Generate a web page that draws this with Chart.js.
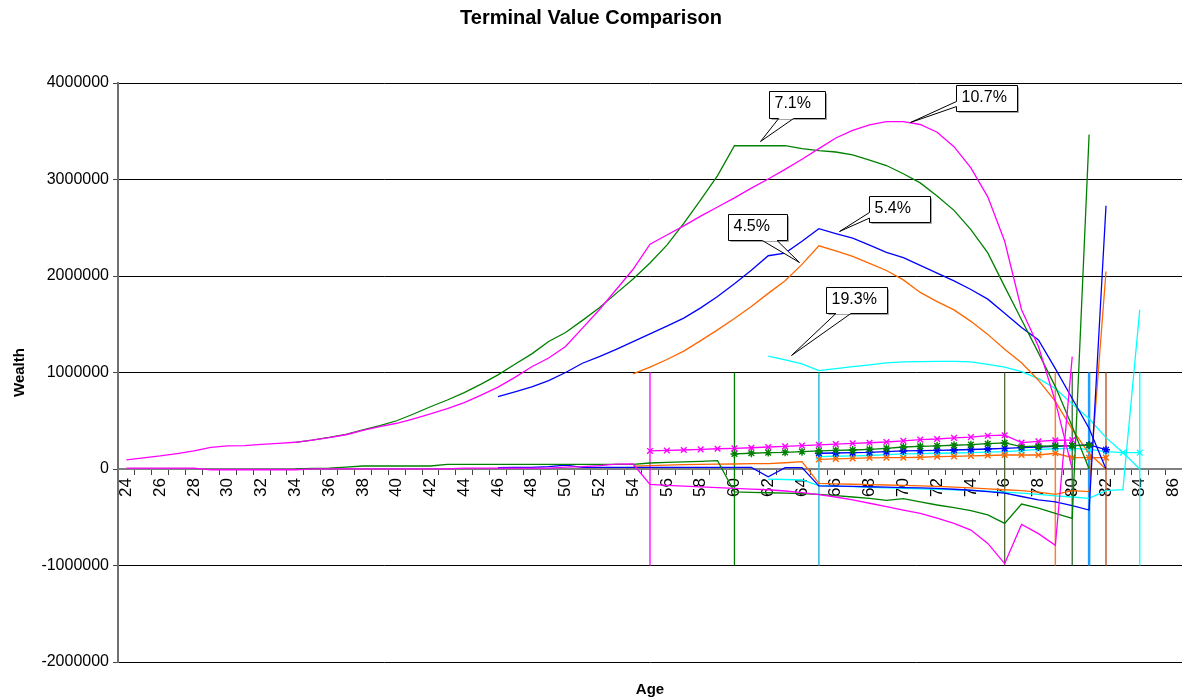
<!DOCTYPE html>
<html>
<head>
<meta charset="utf-8">
<title>Terminal Value Comparison</title>
<script src="https://cdn.jsdelivr.net/npm/chart.js@4.4.0/dist/chart.umd.min.js"></script>
<style>
  html, body { margin: 0; padding: 0; background: #fff; overflow: hidden; }
  canvas { display: block; }
</style>
</head>
<body>
<canvas id="tvChart" width="1182" height="699"></canvas>
<script>
// ages on the category axis
const ages = [24, 25, 26, 27, 28, 29, 30, 31, 32, 33, 34, 35, 36, 37, 38, 39, 40, 41, 42, 43,
    44, 45, 46, 47, 48, 49, 50, 51, 52, 53, 54, 55, 56, 57, 58, 59, 60, 61, 62, 63, 64, 65,
    66, 67, 68, 69, 70, 71, 72, 73, 74, 75, 76, 77, 78, 79, 80, 81, 82, 83, 84, 85, 86];
const ageLabels = ages.map(String);

// wealth paths, one per return rate (first age given separately)
const wealth107From = 24;
const wealth107 = [95000, 115000, 135000, 160000, 187000, 225000, 239000, 242000, 255000, 265000,
    277000, 300000, 325000, 355000, 400000, 440000, 474000, 520000, 570000, 625000,
    688000, 765000, 848000, 950000, 1060000, 1150000, 1270000, 1460000, 1650000, 1860000,
    2070000, 2330000, 2425000, 2520000, 2620000, 2715000, 2810000, 2910000, 3005000, 3105000,
    3210000, 3320000, 3430000, 3510000, 3565000, 3600000, 3600000, 3570000, 3490000, 3340000,
    3120000, 2820000, 2360000, 1650000, 1270000, 700000, 0];
const wealth71From = 34;
const wealth71 = [277000, 300000, 327000, 358000, 405000, 450000, 500000, 570000, 645000, 715000,
    792000, 880000, 975000, 1085000, 1193000, 1321000, 1415000, 1540000, 1670000, 1820000,
    1970000, 2134000, 2320000, 2545000, 2790000, 3040000, 3350000, 3350000, 3350000, 3350000,
    3320000, 3300000, 3285000, 3255000, 3200000, 3145000, 3060000, 2965000, 2830000, 2680000,
    2480000, 2240000, 1890000, 1546000, 1203000, 854000, 440000, 0];
const wealth54From = 46;
const wealth54 = [750000, 800000, 850000, 916000, 1000000, 1096000, 1165000, 1240000, 1320000, 1400000,
    1480000, 1563000, 1670000, 1787000, 1920000, 2060000, 2210000, 2237000, 2360000, 2490000,
    2440000, 2393000, 2320000, 2244000, 2190000, 2110000, 2030000, 1950000, 1860000, 1760000,
    1615000, 1466000, 1338000, 1040000, 730000, 420000, 0];
const wealth45From = 54;
const wealth45 = [985000, 1055000, 1135000, 1222000, 1330000, 1442000, 1560000, 1684000, 1820000, 1950000,
    2120000, 2313000, 2260000, 2203000, 2130000, 2057000, 1960000, 1830000, 1735000, 1649000,
    1530000, 1395000, 1240000, 1100000, 920000, 700000, 410000, 160000, 0];
const wealth193From = 62;
const wealth193 = [1170000, 1130000, 1090000, 1020000, 1040000, 1060000, 1080000, 1100000, 1110000, 1113000,
    1115000, 1115000, 1110000, 1085000, 1055000, 1010000, 937000, 835000, 675000, 520000,
    325000, 170000, 0];

// yearly cash flow: savings, then withdrawals, then the terminal value
const flow107 = [10000, 10000, 10000, 10000, 10000, -8000, -8000, -8000, -8000, -8000,
    -8000, 2000, 2000, 2000, 2000, 2000, 2000, 2000, 2000, 2000,
    10000, 10000, 10000, 10000, 10000, 10000, 20000, 25000, 35000, 50000,
    52000, -160000, -170000, -178000, -185000, -194000, -200000, -208000, -215000, -228000,
    -245000, -265000, -290000, -320000, -355000, -390000, -425000, -460000, -510000, -563000,
    -633000, -771000, -980000, -575000, -670000, -790000, 1165000];
const flow71 = [0, 5000, 10000, 20000, 31000, 31000, 31000, 31000, 31000, 48000,
    48000, 48000, 48000, 48000, 48000, 48000, 48000, 48000, 48000, 48000,
    48000, 62000, 68000, 74000, 80000, 86000, -238000, -242000, -246000, -250000,
    -255000, -262000, -275000, -290000, -305000, -325000, -308000, -340000, -373000, -400000,
    -432000, -475000, -563000, -363000, -406000, -460000, -511000, 3465000];
const flow54 = [15000, 17000, 17000, 25000, 41000, 17000, 17000, 17000, 17000, 17000,
    17000, 17000, 17000, 17000, 17000, 17000, -80000, 14000, 14000, -175000,
    -178000, -181000, -184000, -188000, -192000, -196000, -200000, -210000, -220000, -235000,
    -250000, -285000, -320000, -340000, -380000, -425000, 2728000];
const flow45 = [30000, 35000, 40000, 45000, 48000, 50000, 52000, 55000, 55000, 65000,
    76000, -150000, -155000, -158000, -162000, -166000, -170000, -175000, -180000, -188000,
    -196000, -205000, -215000, -225000, -240000, -262000, -225000, -235000, 2047000];
const flow193 = [-104000, -109000, -114000, -173000, -178000, -183000, -190000, -195000, -200000, -205000,
    -210000, -216000, -222000, -230000, -240000, -250000, -262000, -278000, -290000, -305000,
    -225000, -215000, 1650000];

// income drawn each year after retirement
const draw107From = 55;
const draw107 = [187000, 192000, 197000, 204000, 210000, 214000, 220000, 228000, 235000, 242000,
    250000, 258000, 266000, 272000, 280000, 292000, 305000, 311000, 322000, 330000,
    345000, 350000, 273000, 287000, 298000, 300000];
const draw71From = 60;
const draw71 = [156000, 163000, 170000, 173000, 180000, 187000, 193000, 197000, 204000, 214000,
    228000, 235000, 240000, 246000, 252000, 262000, 270000, 232000, 236000, 240000,
    242000, 246000];
const draw54From = 65;
const draw54 = [163000, 166000, 170000, 173000, 180000, 187000, 190000, 194000, 197000, 202000,
    207000, 214000, 221000, 228000, 235000, 242000, 249000, 200000];
const draw45From = 65;
const draw45 = [100000, 105000, 110000, 115000, 117000, 117000, 122000, 128000, 131000, 135000,
    140000, 145000, 145000, 145000, 163000, 117000, 117000, 117000];
const draw193From = 65;
const draw193 = [128000, 132000, 135000, 140000, 148000, 156000, 160000, 163000, 166000, 169000,
    175000, 180000, 190000, 204000, 210000, 214000, 204000, 180000, 169000, 169000];

// retirement / end-of-plan marker lines
const markerAges = [55, 60, 65, 76, 79, 80, 81, 82, 84];
const markerTop = 1000000;
const markerBottom = -1000000;

// rate callouts: text, arrow tip (age, value), box (left age, top value, right age, bottom value)
const callouts = [
    { text: '7.1%',  tip: [61.51, 3402000], box: [62.04, 3914000, 65.37, 3638000], side: 'bottom', base: [0.164, 0.43] },
    { text: '10.7%', tip: [70.42, 3592000], box: [73.1, 3976000, 76.71, 3706000], side: 'left', base: [0.615, 0.81] },
    { text: '5.4%',  tip: [66.18, 2462000], box: [67.96, 2825000, 71.55, 2555000], side: 'left', base: [0.615, 0.83] },
    { text: '4.5%',  tip: [63.82, 2140000], box: [59.62, 2645000, 63.09, 2376000], side: 'bottom', base: [0.574, 0.823] },
    { text: '19.3%', tip: [63.33, 1183000], box: [65.43, 1888000, 69.04, 1618000], side: 'bottom', base: [0.154, 0.40] }
];

const series = [
    { color: '#ff00ff', marker: 'crossRot', wealthFrom: wealth107From, wealth: wealth107, flowFrom: wealth107From, flow: flow107, drawFrom: draw107From, draw: draw107 },
    { color: '#008000', marker: 'star', wealthFrom: wealth71From, wealth: wealth71, flowFrom: wealth71From, flow: flow71, drawFrom: draw71From, draw: draw71 },
    { color: '#0000ff', marker: 'star', wealthFrom: wealth54From, wealth: wealth54, flowFrom: wealth54From, flow: flow54, drawFrom: draw54From, draw: draw54 },
    { color: '#ff6600', marker: 'crossRot', wealthFrom: wealth45From, wealth: wealth45, flowFrom: wealth45From, flow: flow45, drawFrom: draw45From, draw: draw45 },
    { color: '#00ffff', marker: 'crossRot', wealthFrom: wealth193From, wealth: wealth193, flowFrom: wealth193From, flow: flow193, drawFrom: draw193From, draw: draw193 }
];
const markerColors = ['#ff00ff', '#008000', '#33bbdd', '#55683a', '#ff8030', '#336b33', '#1e9fff', '#c0603a', '#00ffff'];
const markerWidths = [1.3, 1.3, 1.5, 1.3, 1.5, 1.3, 2.5, 1.5, 1.3];

Chart.defaults.font.family = '"Liberation Sans", Arial, Helvetica, sans-serif';
Chart.defaults.color = '#000';

// spread a run of values that starts at `first` over the full age axis
function atAges(first, values) {
    return ages.map(a => {
        const k = a - first;
        return k >= 0 && k < values.length ? values[k] : null;
    });
}

function buildDatasets() {
    const datasets = [];
    series.forEach(s => {
        datasets.push({ data: atAges(s.wealthFrom, s.wealth), borderColor: s.color, borderWidth: 1.3, pointRadius: 0 });
        datasets.push({ data: atAges(s.drawFrom, s.draw), borderColor: s.color, borderWidth: 1.3,
            pointStyle: s.marker, pointRadius: 4, pointBorderWidth: 1.4,
            pointBorderColor: s.color, pointBackgroundColor: s.color });
        datasets.push({ data: atAges(s.flowFrom, s.flow), borderColor: s.color, borderWidth: 1.3, pointRadius: 0 });
    });
    markerAges.forEach((a, i) => {
        datasets.push({
            data: [{ x: String(a), y: markerTop }, { x: String(a), y: markerBottom }],
            borderColor: markerColors[i], borderWidth: markerWidths[i], pointRadius: 0
        });
    });
    datasets.forEach(d => {
        d.xAxisID = 'x';
        d.yAxisID = 'y';
        d.fill = false;
        d.tension = 0;
    });
    return datasets;
}

// boxed labels with a wedge pointing at the curve
const calloutPlugin = {
    id: 'callouts',
    afterDatasetsDraw(chart) {
        const { ctx, scales } = chart;
        const px = age => Math.round(scales.x.getPixelForValue(age - ages[0])) + 0.5;
        const py = v => Math.round(scales.y.getPixelForValue(v)) + 0.5;
        ctx.save();
        ctx.font = '16px "Liberation Sans", Arial, sans-serif';
        ctx.lineWidth = 1;
        ctx.strokeStyle = '#000';
        callouts.forEach(c => {
            const l = px(c.box[0]), t = py(c.box[1]), r = px(c.box[2]), b = py(c.box[3]);
            const tx = px(c.tip[0]), ty = py(c.tip[1]);
            ctx.beginPath();
            ctx.moveTo(l, t);
            ctx.lineTo(r, t);
            ctx.lineTo(r, b);
            if (c.side === 'bottom') {
                ctx.lineTo(l + (r - l) * c.base[1], b);
                ctx.lineTo(tx, ty);
                ctx.lineTo(l + (r - l) * c.base[0], b);
                ctx.lineTo(l, b);
            } else {
                ctx.lineTo(l, b);
                ctx.lineTo(l, t + (b - t) * c.base[1]);
                ctx.lineTo(tx, ty);
                ctx.lineTo(l, t + (b - t) * c.base[0]);
            }
            ctx.closePath();
            ctx.fillStyle = '#fff';
            ctx.fill();
            ctx.stroke();
            // thin drop edge on the right and bottom
            ctx.beginPath();
            ctx.moveTo(r + 1, t + 2);
            ctx.lineTo(r + 1, b + 1);
            ctx.lineTo(l + 2, b + 1);
            ctx.strokeStyle = 'rgba(0,0,0,0.35)';
            ctx.stroke();
            ctx.strokeStyle = '#000';
            ctx.fillStyle = '#000';
            ctx.textBaseline = 'middle';
            ctx.textAlign = 'left';
            ctx.fillText(c.text, l + 5, (t + b) / 2 - 1);
        });
        ctx.restore();
    }
};

const ctx = document.getElementById('tvChart').getContext('2d');

new Chart(ctx, {
    type: 'line',
    data: { labels: ageLabels, datasets: buildDatasets() },
    plugins: [calloutPlugin],
    options: {
        responsive: false,
        animation: false,
        devicePixelRatio: 1,
        layout: { padding: 0, autoPadding: false },
        plugins: {
            legend: { display: false },
            tooltip: { enabled: false },
            title: {
                display: true,
                text: 'Terminal Value Comparison',
                color: '#000',
                font: { size: 20, weight: 'bold' },
                padding: { top: 6, bottom: 53 }
            }
        },
        scales: {
            x: {
                type: 'category',
                position: { y: 0 },
                offset: true,
                grid: { offset: true, drawOnChartArea: false, drawTicks: true, tickLength: 5, tickColor: '#444' },
                border: { display: true, color: '#808080', width: 2 },
                ticks: {
                    autoSkip: false,
                    minRotation: 90,
                    maxRotation: 90,
                    padding: 4,
                    color: '#000',
                    font: { size: 17 },
                    callback: (value, index) => (ages[index] % 2 === 0 ? String(ages[index]) : '')
                },
                afterFit: scale => { scale.paddingLeft = 0; scale.paddingRight = 0; }
            },
            xAge: {
                type: 'category',
                axis: 'x',
                labels: ageLabels,
                position: 'bottom',
                grid: { display: false, drawTicks: false },
                border: { display: false },
                ticks: { display: false },
                title: { display: true, text: 'Age', color: '#000', font: { size: 15, weight: 'bold' }, padding: { top: 19, bottom: 0 } }
            },
            y: {
                min: -2000000,
                max: 4000000,
                ticks: { stepSize: 1000000, padding: 4, color: '#000', font: { size: 16 }, callback: v => String(v) },
                grid: {
                    color: c => (c.tick && c.tick.value === 0 ? 'rgba(0,0,0,0)' : '#000'),
                    lineWidth: 1,
                    tickLength: 5,
                    tickColor: '#444'
                },
                border: { display: true, color: '#707070', width: 2 },
                title: { display: true, text: 'Wealth', color: '#000', font: { size: 15, weight: 'bold' }, padding: { top: 11, bottom: 0 } },
                afterFit: scale => { scale.width = 118; }
            }
        }
    }
});
</script>
</body>
</html>
